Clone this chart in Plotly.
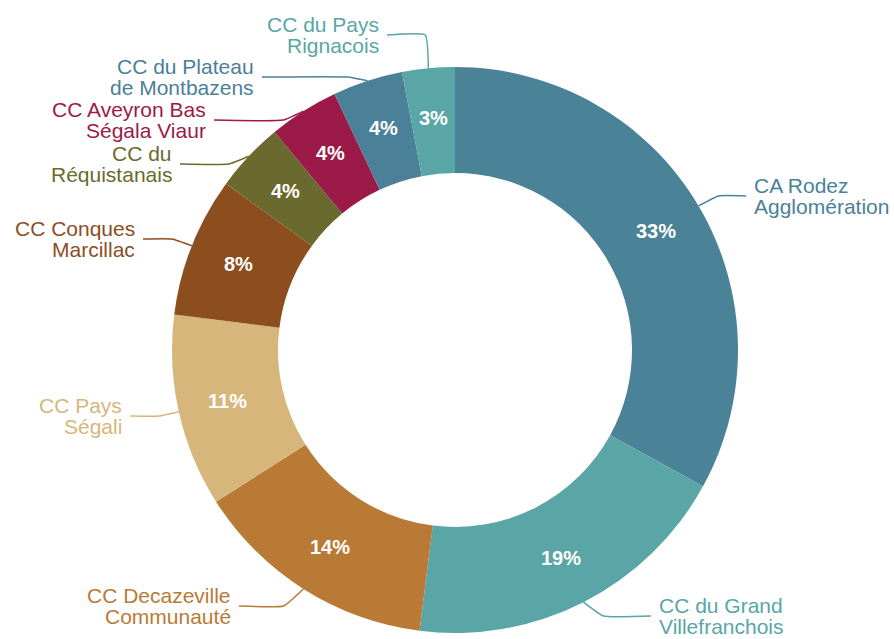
import math
import plotly.graph_objects as go

# ---- data ----
labels = ["CA Rodez Agglomération", "CC du Grand Villefranchois", "CC Decazeville Communauté",
          "CC Pays Ségali", "CC Conques Marcillac", "CC du Réquistanais",
          "CC Aveyron Bas Ségala Viaur", "CC du Plateau de Montbazens", "CC du Pays Rignacois"]
label_lines = [["CA Rodez", "Agglomération"], ["CC du Grand", "Villefranchois"],
               ["CC Decazeville", "Communauté"], ["CC Pays", "Ségali"], ["CC Conques", "Marcillac"],
               ["CC du", "Réquistanais"], ["CC Aveyron Bas", "Ségala Viaur"],
               ["CC du Plateau", "de Montbazens"], ["CC du Pays", "Rignacois"]]
values = [33, 19, 14, 11, 8, 4, 4, 4, 3]
colors = ["#4a8298", "#5aa6a6", "#b97a36", "#d7b67c", "#8c4e1f", "#6b6a2e", "#9c1a48", "#4b8099", "#5aa6a6"]

# ---- layout geometry (pixels) ----
W, H = 894, 639
CX, CY, R_OUT, R_IN = 455, 350, 283, 177
# label text edge x, label centre y, side (+1 right / -1 left)
label_pos = [(752, 196, 1), (657, 616, 1), (233, 606, -1), (124, 416, -1), (137, 239, -1),
             (174, 164, -1), (208, 120, -1), (256, 77, -1), (381, 35, -1)]
LINE_GAP = 21
FONT = "Liberation Sans, Arial, Helvetica, sans-serif"

fig = go.Figure()
fig.add_trace(go.Pie(
    labels=labels, values=values, hole=R_IN / R_OUT, sort=False, direction="clockwise",
    rotation=0, marker=dict(colors=colors, line=dict(width=0)), textinfo="none",
    hoverinfo="label+percent", showlegend=False,
    domain=dict(x=[(CX - R_OUT) / W, (CX + R_OUT) / W],
                y=[(H - CY - R_OUT) / H, (H - CY + R_OUT) / H]),
))

total = sum(values)
annotations = []
cum = 0
for i, v in enumerate(values):
    mid = (cum + v / 2) / total * 2 * math.pi
    cum += v
    s, c = math.sin(mid), math.cos(mid)
    # percent label
    rm = 233
    annotations.append(dict(x=CX + rm * s, y=CY - rm * c, xref="x", yref="y", text=f"<b>{v}%</b>",
                            showarrow=False, font=dict(family=FONT, size=20, color="white"),
                            xanchor="center", yanchor="middle"))
    # connector
    ax, ay = CX + R_OUT * s, CY - R_OUT * c
    lx, ly, side = label_pos[i]
    dy = ly - ay
    if abs(dy) < 20:
        ex = ax + side * 20
    else:
        ex = ax + (s / c) * (-dy) if abs(c) > 1e-6 else ax
        ex = ax + abs(ex - ax) * side
    end_x = lx - side * 6
    fig.add_trace(go.Scatter(x=[ax, ex, end_x], y=[ay, ly, ly], mode="lines",
                             line=dict(color=colors[i], width=1.5, shape="spline", smoothing=0.4),
                             hoverinfo="skip", showlegend=False))
    # label text lines
    n = len(label_lines[i])
    for k, t in enumerate(label_lines[i]):
        yy = ly + (k - (n - 1) / 2) * LINE_GAP
        annotations.append(dict(x=lx, y=yy, xref="x", yref="y", text=t, showarrow=False,
                                font=dict(family=FONT, size=21, color=colors[i]),
                                xanchor="left" if side > 0 else "right", yanchor="middle"))

fig.update_layout(
    width=W, height=H, margin=dict(l=0, r=0, t=0, b=0),
    paper_bgcolor="white", plot_bgcolor="rgba(0,0,0,0)",
    xaxis=dict(range=[0, W], visible=False, domain=[0, 1], fixedrange=True),
    yaxis=dict(range=[H, 0], visible=False, domain=[0, 1], fixedrange=True),
    annotations=annotations,
)
fig.write_html("out.html", config={"displayModeBar": False},
               post_script="document.body.style.margin='0';document.body.style.overflow='hidden';")
